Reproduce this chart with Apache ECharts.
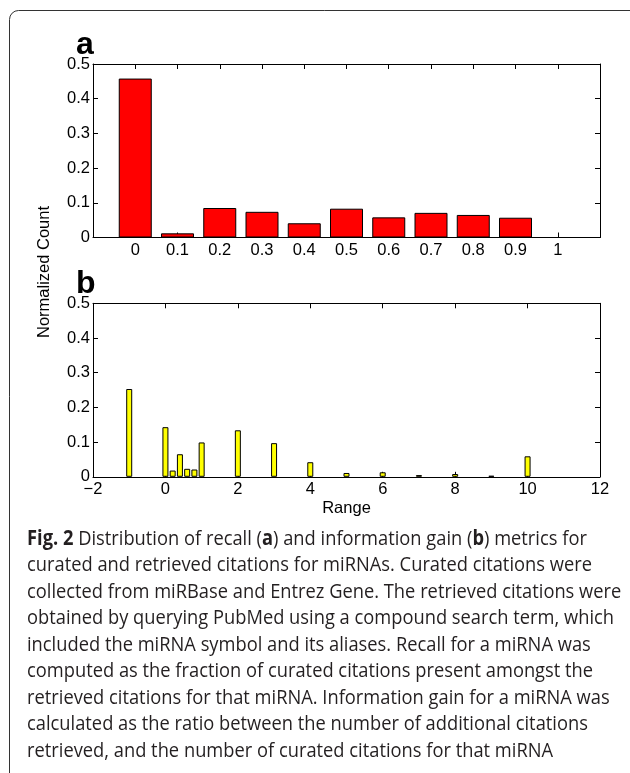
<!DOCTYPE html>
<html>
<head>
<meta charset="utf-8">
<script src="https://cdn.jsdelivr.net/npm/echarts@6/dist/echarts.min.js"></script>
<style>
  html, body { margin: 0; padding: 0; background: #fff; }
  #chart { width: 630px; height: 773px; }
</style>
</head>
<body>
<div id="chart"></div>
<script>
// Panel a: recall bins and their normalized counts
const recallBins = [0, 0.1, 0.2, 0.3, 0.4, 0.5, 0.6, 0.7, 0.8, 0.9, 1];
const recallCounts = [0.458, 0.012, 0.085, 0.074, 0.041, 0.083, 0.058, 0.071, 0.065, 0.057, 0];

// Panel b: information gain bins and their normalized counts
const gainBins = [-1, 0, 0.2, 0.4, 0.6, 0.8, 1, 2, 3, 4, 5, 6, 7, 8, 9, 10];
const gainCounts = [0.253, 0.143, 0.018, 0.065, 0.023, 0.021, 0.099, 0.134, 0.097, 0.042, 0.011, 0.013, 0.005, 0.008, 0.003, 0.059];

// Tick labels
const countTicks = [0, 0.1, 0.2, 0.3, 0.4, 0.5];
const gainTicks = [-2, 0, 2, 4, 6, 8, 10, 12];

// Figure caption, one entry per printed line ({b|...} marks bold runs)
const captionLines = [
  '{b|Fig. 2} Distribution of recall ({b|a}) and information gain ({b|b}) metrics for',
  'curated and retrieved citations for miRNAs. Curated citations were',
  'collected from miRBase and Entrez Gene. The retrieved citations were',
  'obtained by querying PubMed using a compound search term, which',
  'included the miRNA symbol and its aliases. Recall for a miRNA was',
  'computed as the fraction of curated citations present amongst the',
  'retrieved citations for that miRNA. Information gain for a miRNA was',
  'calculated as the ratio between the number of additional citations',
  'retrieved, and the number of curated citations for that miRNA'
];

const AXIS_FONT = "'Liberation Sans', Arial, sans-serif";
const AXIS_SIZE = 16.5;
const CAPTION_FONT = "'Open Sans', 'Noto Sans', sans-serif";
const CAPTION_SIZE = 20.5;

function fmt(v) { return String(parseFloat(v.toFixed(2))); }
function inList(list, v) { return list.some(t => Math.abs(t - v) < 1e-6); }

const labelStyle = { fontFamily: AXIS_FONT, fontSize: AXIS_SIZE, color: '#000' };
const lineStyle = { color: '#000', width: 1 };
const tickStyle = { show: true, inside: true, length: 5, lineStyle: lineStyle };

function xAxisPair(gridIndex, min, max, interval, labelList, extra) {
  return [
    Object.assign({
      type: 'value', gridIndex, position: 'bottom', min, max, interval,
      axisLine: { show: true, onZero: false, lineStyle },
      axisTick: tickStyle,
      splitLine: { show: false },
      axisLabel: Object.assign({}, labelStyle, {
        margin: 4, showMinLabel: true, showMaxLabel: true,
        formatter: v => inList(labelList, v) ? fmt(v).replace('-', '\u2212') : ''
      })
    }, extra || {}),
    {
      type: 'value', gridIndex, position: 'top', min, max, interval,
      axisLine: { show: true, onZero: false, lineStyle },
      axisTick: tickStyle,
      splitLine: { show: false },
      axisLabel: { show: false }
    }
  ];
}

function yAxisPair(gridIndex) {
  return [
    {
      type: 'value', gridIndex, position: 'left', min: 0, max: 0.5, interval: 0.1,
      axisLine: { show: true, onZero: false, lineStyle },
      axisTick: tickStyle,
      splitLine: { show: false },
      axisLabel: Object.assign({}, labelStyle, {
        margin: 3,
        formatter: v => inList(countTicks, v) ? fmt(v) : ''
      })
    },
    {
      type: 'value', gridIndex, position: 'right', min: 0, max: 0.5, interval: 0.1,
      axisLine: { show: true, onZero: false, lineStyle },
      axisTick: tickStyle,
      splitLine: { show: false },
      axisLabel: { show: false }
    }
  ];
}

// Horizontal squeeze so the caption block keeps its printed width
const measureCtx = document.createElement('canvas').getContext('2d');
measureCtx.font = CAPTION_SIZE + 'px ' + CAPTION_FONT;
const captionScale = 587 / measureCtx.measureText(captionLines[3]).width;

const captionText = captionLines.map((line, i) => ({
  type: 'text',
  x: 27, y: 539 + i * 26.5,
  scaleX: captionScale,
  style: {
    text: line,
    fontFamily: CAPTION_FONT,
    fontSize: CAPTION_SIZE,
    fill: '#231f20',
    textAlign: 'left',
    textVerticalAlign: 'middle',
    rich: {
      b: { fontFamily: CAPTION_FONT, fontSize: CAPTION_SIZE, fontWeight: 'bold', fill: '#231f20', color: '#231f20' }
    }
  }
}));

const chart = echarts.init(document.getElementById('chart'), null, { renderer: 'canvas' });

chart.setOption({
  animation: false,
  backgroundColor: '#fff',
  grid: [
    { left: 93, top: 64, width: 507, height: 173.5 },
    { left: 93, top: 303.3, width: 507, height: 173.5 }
  ],
  xAxis: [
    ...xAxisPair(0, -0.1, 1.1, 0.1, recallBins),
    ...xAxisPair(1, -2, 12, 2, gainTicks, {
      name: 'Range',
      nameLocation: 'middle',
      nameGap: 23,
      nameTextStyle: { fontFamily: AXIS_FONT, fontSize: AXIS_SIZE, color: '#000' }
    })
  ],
  yAxis: [
    ...yAxisPair(0),
    ...yAxisPair(1)
  ],
  series: [
    {
      type: 'bar', xAxisIndex: 0, yAxisIndex: 0,
      barWidth: 33,
      data: recallBins.map((b, i) => [b, recallCounts[i]]),
      itemStyle: { color: '#ff0000', borderColor: '#000', borderWidth: 1 }
    },
    {
      type: 'bar', xAxisIndex: 2, yAxisIndex: 2,
      barWidth: 6,
      data: gainBins.map((b, i) => [b, gainCounts[i]]),
      itemStyle: { color: '#ffff00', borderColor: '#000', borderWidth: 1 }
    }
  ],
  graphic: [
    {
      type: 'rect',
      shape: { x: 9.5, y: 10.5, width: 700, height: 900, r: 9 },
      style: { fill: 'none', stroke: '#333', lineWidth: 1 }
    },
    {
      type: 'text', x: 76, y: 45,
      style: { text: 'a', fontFamily: AXIS_FONT, fontSize: 32, fontWeight: 'bold', fill: '#000', textAlign: 'left', textVerticalAlign: 'middle' }
    },
    {
      type: 'text', x: 76, y: 284,
      style: { text: 'b', fontFamily: AXIS_FONT, fontSize: 32, fontWeight: 'bold', fill: '#000', textAlign: 'left', textVerticalAlign: 'middle' }
    },
    {
      type: 'text', x: 44, y: 272, rotation: Math.PI / 2,
      style: { text: 'Normalized Count', fontFamily: AXIS_FONT, fontSize: AXIS_SIZE, fill: '#000', textAlign: 'center', textVerticalAlign: 'middle' }
    },
    ...captionText
  ]
});
</script>
</body>
</html>
